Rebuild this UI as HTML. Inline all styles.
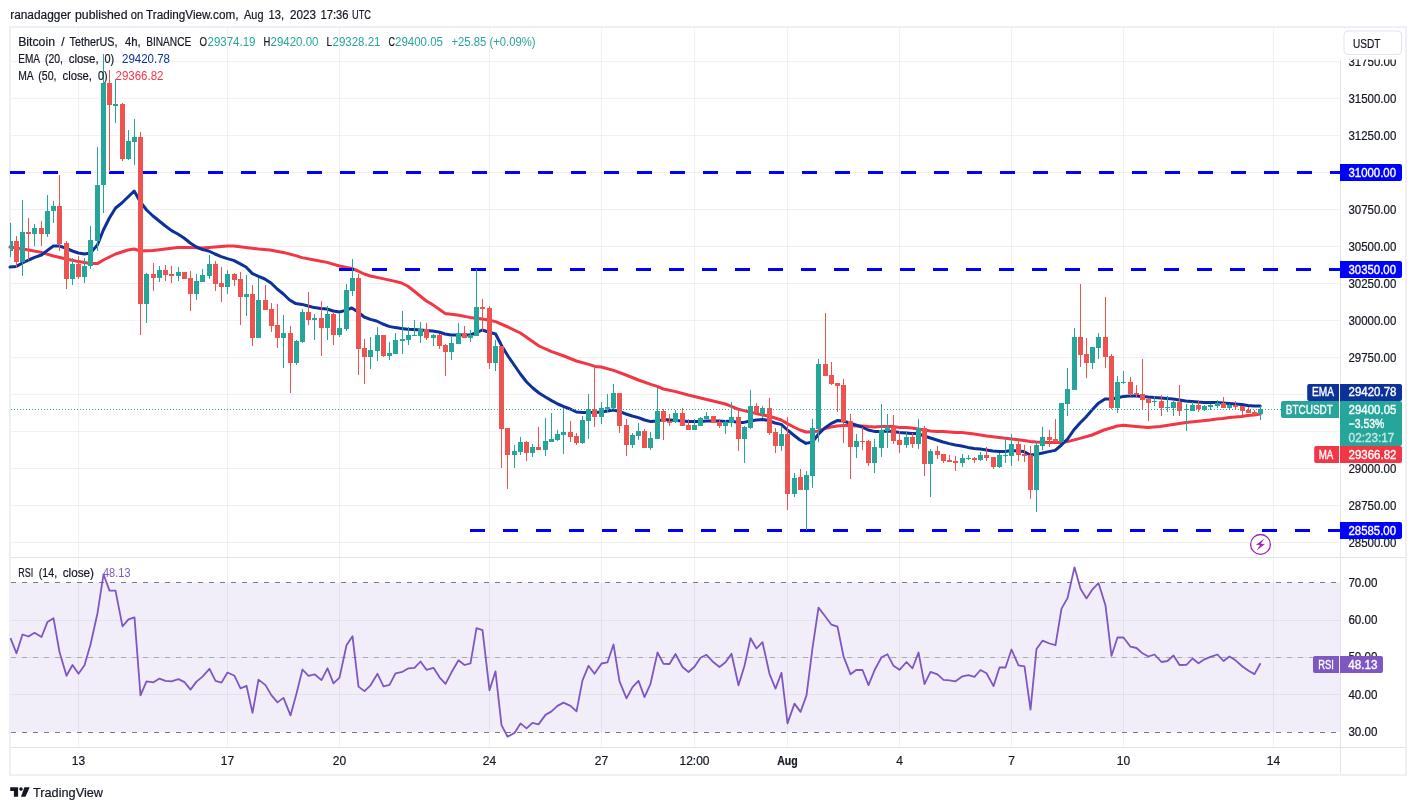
<!DOCTYPE html>
<html lang="en"><head><meta charset="utf-8"><title>BTCUSDT 4h chart</title>
<style>html,body{margin:0;padding:0;background:#fff;}svg{display:block;}</style></head>
<body><svg width="1416" height="810" viewBox="0 0 1416 810" font-family="'Liberation Sans', Arial, sans-serif" font-size="12">
<rect width="1416" height="810" fill="#fff"/>
<rect x="10" y="27" width="1396" height="748" fill="#fff" stroke="#eff0f6" stroke-width="2"/>
<rect x="11" y="582.5" width="1329" height="149.5" fill="#f2eef9"/>
<g shape-rendering="crispEdges" stroke="#2a2e39" stroke-opacity="0.065" stroke-width="1">
<line x1="78.5" y1="28" x2="78.5" y2="747"/>
<line x1="227.5" y1="28" x2="227.5" y2="747"/>
<line x1="339.5" y1="28" x2="339.5" y2="747"/>
<line x1="489.5" y1="28" x2="489.5" y2="747"/>
<line x1="601.5" y1="28" x2="601.5" y2="747"/>
<line x1="694.5" y1="28" x2="694.5" y2="747"/>
<line x1="787.5" y1="28" x2="787.5" y2="747"/>
<line x1="899.5" y1="28" x2="899.5" y2="747"/>
<line x1="1011.5" y1="28" x2="1011.5" y2="747"/>
<line x1="1123.5" y1="28" x2="1123.5" y2="747"/>
<line x1="1273.5" y1="28" x2="1273.5" y2="747"/>
<line x1="11" y1="542.5" x2="1340" y2="542.5"/>
<line x1="11" y1="505.5" x2="1340" y2="505.5"/>
<line x1="11" y1="468.5" x2="1340" y2="468.5"/>
<line x1="11" y1="431.5" x2="1340" y2="431.5"/>
<line x1="11" y1="394.5" x2="1340" y2="394.5"/>
<line x1="11" y1="357.5" x2="1340" y2="357.5"/>
<line x1="11" y1="320.5" x2="1340" y2="320.5"/>
<line x1="11" y1="283.5" x2="1340" y2="283.5"/>
<line x1="11" y1="246.5" x2="1340" y2="246.5"/>
<line x1="11" y1="209.5" x2="1340" y2="209.5"/>
<line x1="11" y1="172.5" x2="1340" y2="172.5"/>
<line x1="11" y1="135.5" x2="1340" y2="135.5"/>
<line x1="11" y1="98.5" x2="1340" y2="98.5"/>
<line x1="11" y1="61.5" x2="1340" y2="61.5"/>
<line x1="11" y1="620.5" x2="1340" y2="620.5"/>
<line x1="11" y1="657.5" x2="1340" y2="657.5"/>
<line x1="11" y1="694.5" x2="1340" y2="694.5"/>
</g>
<g shape-rendering="crispEdges" stroke="#e0e3eb" stroke-width="1">
<line x1="1340.5" y1="28" x2="1340.5" y2="774"/>
<line x1="11" y1="747.5" x2="1405" y2="747.5"/>
<line x1="11" y1="557.5" x2="1405" y2="557.5"/>
</g>
<g shape-rendering="crispEdges" fill="none">
<line x1="11" y1="582.5" x2="1340" y2="582.5" stroke="#787b86" stroke-width="1" stroke-dasharray="5 6"/>
<line x1="11" y1="732.5" x2="1340" y2="732.5" stroke="#787b86" stroke-width="1" stroke-dasharray="5 6"/>
<line x1="11" y1="657.5" x2="1340" y2="657.5" stroke="#a9abb3" stroke-width="1" stroke-dasharray="5 6"/>
</g>
<polyline points="10.0,247.0 22.4,249.0 28.6,250.0 41.4,252.4 53.4,256.0 66.4,259.0 78.4,261.6 90.4,263.6 97.4,263.6 103.4,260.0 115.6,254.0 128.0,250.0 134.2,249.0 140.4,251.0 153.0,250.4 165.4,249.0 177.8,247.6 190.2,247.6 202.6,248.0 215.0,247.0 227.4,246.0 233.6,246.0 246.0,247.6 258.6,249.0 270.0,250.0 283.4,252.4 295.8,255.6 302.0,257.6 314.4,260.0 327.0,262.4 339.4,266.0 351.8,268.4 358.0,271.0 364.2,274.0 370.4,276.0 382.8,278.6 395.2,281.4 401.4,283.0 407.6,286.0 414.0,291.0 420.2,296.0 426.4,301.0 432.6,304.6 438.8,309.0 445.0,313.4 457.4,315.0 469.8,317.4 482.2,319.0 488.4,320.0 495.6,321.6 508.0,327.0 520.4,333.0 539.0,346.0 551.6,351.6 564.0,356.0 576.4,361.0 588.8,364.4 595.0,366.4 601.2,367.0 613.6,370.4 626.0,375.0 638.4,380.0 650.8,384.4 657.2,386.4 663.4,389.0 675.8,391.6 688.2,395.0 700.6,398.0 713.0,401.0 725.4,404.0 731.4,406.4 737.6,409.0 744.0,410.6 750.0,412.0 756.4,413.6 762.6,415.0 768.8,416.0 775.0,418.0 781.2,420.0 787.4,423.6 793.6,427.0 800.0,430.0 806.0,432.0 812.4,432.0 818.6,431.0 824.8,428.6 831.0,427.0 837.2,426.0 843.4,425.6 849.6,425.6 855.8,426.0 862.0,426.0 868.2,426.6 874.4,427.0 880.8,426.6 887.0,426.4 893.2,426.6 899.4,427.4 905.6,427.6 911.8,428.0 918.0,429.0 924.2,430.0 930.4,431.0 936.8,431.4 943.0,431.6 949.2,432.0 955.4,432.4 961.8,432.6 974.2,434.0 986.6,436.0 999.2,437.6 1011.6,439.0 1024.0,440.4 1030.2,441.4 1036.4,442.0 1048.8,442.4 1061.4,442.6 1067.6,441.6 1080.0,438.4 1092.0,435.0 1104.0,430.0 1117.4,426.0 1123.6,425.2 1136.0,426.4 1148.0,427.6 1160.0,426.4 1186.0,422.6 1210.0,420.0 1216.8,419.0 1223.0,418.4 1229.2,417.6 1235.4,417.0 1241.6,416.4 1247.8,415.6 1254.0,415.0 1260.2,414.0" fill="none" stroke="#f23645" stroke-width="3" stroke-linejoin="round" stroke-linecap="round"/>
<polyline points="10.0,267.0 16.4,266.4 22.4,263.0 28.6,260.0 34.6,257.4 41.4,255.0 47.4,250.4 53.4,246.0 59.4,246.0 66.4,248.4 72.4,251.0 78.4,253.0 84.6,254.0 90.4,253.0 97.4,245.0 103.4,230.0 109.4,218.0 115.6,208.0 121.8,203.0 128.0,197.0 134.2,191.0 140.4,202.0 146.6,210.0 153.0,216.0 159.2,221.0 165.4,226.0 171.6,230.6 177.8,234.0 184.0,238.0 190.2,243.0 196.4,247.0 202.6,249.6 208.8,251.0 215.0,254.0 221.2,256.6 227.4,258.6 233.6,260.4 239.8,263.6 246.0,267.0 252.4,273.6 258.6,276.4 264.8,279.0 271.0,283.0 277.2,289.0 283.4,294.0 289.6,300.0 295.8,303.6 302.0,304.4 308.2,306.0 314.4,307.6 320.6,308.6 327.0,309.0 333.2,311.0 339.4,312.0 345.6,310.4 351.8,308.0 358.0,312.0 364.2,317.0 370.4,319.4 376.6,321.0 382.8,324.0 389.0,326.4 395.2,327.6 401.4,328.4 407.6,329.2 414.0,329.6 420.2,330.0 426.4,330.4 432.6,331.0 438.8,332.0 445.0,334.0 451.2,335.0 457.4,335.0 463.6,335.0 469.8,335.0 476.0,333.0 482.2,330.0 488.4,332.0 495.6,334.0 501.8,346.0 508.0,356.0 514.2,365.0 520.4,374.0 526.6,382.0 532.8,388.0 539.0,393.0 545.4,397.0 551.6,400.6 557.8,404.0 564.0,406.6 570.2,409.0 576.4,412.0 582.6,412.4 588.8,412.4 595.0,412.4 601.2,412.0 607.4,411.0 613.6,410.0 619.8,411.6 626.0,414.0 632.2,416.0 638.4,417.6 644.6,420.0 650.8,421.6 657.2,421.0 663.4,419.6 669.6,420.0 675.8,420.4 682.0,421.0 688.2,421.4 694.4,421.6 700.6,421.6 706.8,421.0 713.0,421.0 719.2,421.0 725.4,421.4 731.4,421.0 737.6,422.4 744.0,422.4 750.0,421.0 756.4,420.0 762.6,419.6 768.8,420.6 775.0,423.0 781.2,424.4 787.4,430.0 793.6,435.0 800.0,440.0 806.0,443.4 812.4,442.0 818.6,434.0 824.8,428.0 831.0,423.6 837.2,420.6 843.4,421.0 849.6,423.0 855.8,425.0 862.0,427.0 868.2,430.0 874.4,431.4 880.8,431.4 887.0,431.0 893.2,431.6 899.4,432.4 905.6,433.0 911.8,433.6 918.0,433.6 924.2,436.0 930.4,438.0 936.8,440.0 943.0,442.0 949.2,443.6 955.4,445.0 961.6,446.0 967.8,447.4 974.0,448.4 980.2,449.0 986.4,450.0 992.8,451.0 999.0,451.4 1005.2,451.4 1011.4,450.4 1017.8,451.0 1024.0,451.6 1030.2,455.0 1036.4,454.4 1042.6,453.0 1048.8,451.6 1055.2,450.4 1061.4,445.0 1067.6,439.0 1073.8,430.0 1080.0,423.0 1086.0,417.0 1092.0,410.0 1098.0,403.6 1105.0,399.0 1111.0,399.0 1117.2,398.0 1123.4,396.4 1129.6,396.0 1135.8,396.0 1142.0,396.4 1148.2,397.0 1154.4,397.4 1160.8,398.0 1167.0,398.6 1173.2,399.0 1179.4,400.0 1185.6,401.0 1191.8,401.4 1198.0,402.0 1204.2,402.4 1210.4,402.6 1216.8,402.6 1223.0,403.0 1229.2,403.4 1235.4,404.0 1241.6,404.6 1247.8,405.4 1254.0,406.0 1260.2,406.0" fill="none" stroke="#0c3299" stroke-width="3" stroke-linejoin="round" stroke-linecap="round"/>
<g stroke="#0000ff" stroke-width="3" stroke-dasharray="15 18" shape-rendering="crispEdges">
<line x1="10" y1="172.5" x2="1340" y2="172.5"/>
<line x1="339" y1="269.5" x2="1340" y2="269.5"/>
<line x1="470" y1="530.5" x2="1340" y2="530.5"/>
</g>
<g shape-rendering="crispEdges">
<rect x="10" y="223" width="1" height="34" fill="#26a69a"/>
<rect x="10" y="241" width="3" height="10" fill="#26a69a"/>
<rect x="16" y="236" width="1" height="32" fill="#ef5350"/>
<rect x="14" y="241" width="5" height="21" fill="#ef5350"/>
<rect x="22" y="200" width="1" height="76" fill="#26a69a"/>
<rect x="20" y="232" width="5" height="30" fill="#26a69a"/>
<rect x="28" y="218" width="1" height="42" fill="#ef5350"/>
<rect x="26" y="232" width="5" height="2" fill="#ef5350"/>
<rect x="34" y="224" width="1" height="22" fill="#26a69a"/>
<rect x="32" y="228" width="5" height="6" fill="#26a69a"/>
<rect x="41" y="221" width="1" height="25" fill="#ef5350"/>
<rect x="39" y="228" width="5" height="6" fill="#ef5350"/>
<rect x="47" y="195" width="1" height="42" fill="#26a69a"/>
<rect x="45" y="211" width="5" height="23" fill="#26a69a"/>
<rect x="53" y="201" width="1" height="22" fill="#26a69a"/>
<rect x="51" y="206" width="5" height="5" fill="#26a69a"/>
<rect x="59" y="175" width="1" height="76" fill="#ef5350"/>
<rect x="57" y="206" width="5" height="38" fill="#ef5350"/>
<rect x="66" y="241" width="1" height="48" fill="#ef5350"/>
<rect x="64" y="243" width="5" height="36" fill="#ef5350"/>
<rect x="72" y="258" width="1" height="27" fill="#26a69a"/>
<rect x="70" y="264" width="5" height="15" fill="#26a69a"/>
<rect x="78" y="256" width="1" height="23" fill="#ef5350"/>
<rect x="76" y="264" width="5" height="13" fill="#ef5350"/>
<rect x="84" y="258" width="1" height="25" fill="#26a69a"/>
<rect x="82" y="266" width="5" height="11" fill="#26a69a"/>
<rect x="90" y="226" width="1" height="43" fill="#26a69a"/>
<rect x="88" y="240" width="5" height="26" fill="#26a69a"/>
<rect x="97" y="147" width="1" height="104" fill="#26a69a"/>
<rect x="95" y="185" width="5" height="56" fill="#26a69a"/>
<rect x="103" y="54" width="1" height="159" fill="#26a69a"/>
<rect x="101" y="83" width="5" height="102" fill="#26a69a"/>
<rect x="109" y="70" width="1" height="102" fill="#ef5350"/>
<rect x="107" y="83" width="5" height="22" fill="#ef5350"/>
<rect x="115" y="79" width="1" height="44" fill="#26a69a"/>
<rect x="113" y="104" width="5" height="2" fill="#26a69a"/>
<rect x="122" y="103" width="1" height="58" fill="#ef5350"/>
<rect x="120" y="104" width="5" height="55" fill="#ef5350"/>
<rect x="128" y="130" width="1" height="30" fill="#26a69a"/>
<rect x="126" y="141" width="5" height="18" fill="#26a69a"/>
<rect x="134" y="119" width="1" height="46" fill="#26a69a"/>
<rect x="132" y="137" width="5" height="5" fill="#26a69a"/>
<rect x="140" y="132" width="1" height="203" fill="#ef5350"/>
<rect x="138" y="137" width="5" height="167" fill="#ef5350"/>
<rect x="146" y="273" width="1" height="50" fill="#26a69a"/>
<rect x="144" y="274" width="5" height="30" fill="#26a69a"/>
<rect x="153" y="263" width="1" height="28" fill="#ef5350"/>
<rect x="151" y="274" width="5" height="4" fill="#ef5350"/>
<rect x="159" y="266" width="1" height="16" fill="#26a69a"/>
<rect x="157" y="270" width="5" height="8" fill="#26a69a"/>
<rect x="165" y="265" width="1" height="16" fill="#ef5350"/>
<rect x="163" y="270" width="5" height="5" fill="#ef5350"/>
<rect x="171" y="266" width="1" height="17" fill="#ef5350"/>
<rect x="169" y="274" width="5" height="2" fill="#ef5350"/>
<rect x="178" y="267" width="1" height="14" fill="#26a69a"/>
<rect x="176" y="272" width="5" height="4" fill="#26a69a"/>
<rect x="184" y="272" width="1" height="7" fill="#ef5350"/>
<rect x="182" y="272" width="5" height="7" fill="#ef5350"/>
<rect x="190" y="271" width="1" height="40" fill="#ef5350"/>
<rect x="188" y="278" width="5" height="16" fill="#ef5350"/>
<rect x="196" y="274" width="1" height="26" fill="#26a69a"/>
<rect x="194" y="281" width="5" height="13" fill="#26a69a"/>
<rect x="202" y="269" width="1" height="13" fill="#26a69a"/>
<rect x="200" y="275" width="5" height="7" fill="#26a69a"/>
<rect x="209" y="255" width="1" height="24" fill="#26a69a"/>
<rect x="207" y="264" width="5" height="12" fill="#26a69a"/>
<rect x="215" y="261" width="1" height="30" fill="#ef5350"/>
<rect x="213" y="264" width="5" height="20" fill="#ef5350"/>
<rect x="221" y="267" width="1" height="35" fill="#ef5350"/>
<rect x="219" y="283" width="5" height="4" fill="#ef5350"/>
<rect x="227" y="270" width="1" height="24" fill="#26a69a"/>
<rect x="225" y="274" width="5" height="13" fill="#26a69a"/>
<rect x="234" y="273" width="1" height="13" fill="#ef5350"/>
<rect x="232" y="274" width="5" height="6" fill="#ef5350"/>
<rect x="240" y="272" width="1" height="53" fill="#ef5350"/>
<rect x="238" y="279" width="5" height="18" fill="#ef5350"/>
<rect x="246" y="275" width="1" height="41" fill="#26a69a"/>
<rect x="244" y="294" width="5" height="3" fill="#26a69a"/>
<rect x="252" y="285" width="1" height="61" fill="#ef5350"/>
<rect x="250" y="294" width="5" height="44" fill="#ef5350"/>
<rect x="258" y="278" width="1" height="60" fill="#26a69a"/>
<rect x="256" y="300" width="5" height="38" fill="#26a69a"/>
<rect x="265" y="285" width="1" height="25" fill="#ef5350"/>
<rect x="263" y="300" width="5" height="10" fill="#ef5350"/>
<rect x="271" y="303" width="1" height="29" fill="#ef5350"/>
<rect x="269" y="309" width="5" height="17" fill="#ef5350"/>
<rect x="277" y="304" width="1" height="44" fill="#ef5350"/>
<rect x="275" y="325" width="5" height="13" fill="#ef5350"/>
<rect x="283" y="315" width="1" height="53" fill="#26a69a"/>
<rect x="281" y="333" width="5" height="5" fill="#26a69a"/>
<rect x="290" y="326" width="1" height="67" fill="#ef5350"/>
<rect x="288" y="333" width="5" height="30" fill="#ef5350"/>
<rect x="296" y="340" width="1" height="25" fill="#26a69a"/>
<rect x="294" y="341" width="5" height="22" fill="#26a69a"/>
<rect x="302" y="309" width="1" height="34" fill="#26a69a"/>
<rect x="300" y="312" width="5" height="30" fill="#26a69a"/>
<rect x="308" y="292" width="1" height="33" fill="#ef5350"/>
<rect x="306" y="312" width="5" height="8" fill="#ef5350"/>
<rect x="314" y="314" width="1" height="26" fill="#26a69a"/>
<rect x="312" y="318" width="5" height="2" fill="#26a69a"/>
<rect x="321" y="301" width="1" height="55" fill="#ef5350"/>
<rect x="319" y="318" width="5" height="10" fill="#ef5350"/>
<rect x="327" y="306" width="1" height="34" fill="#26a69a"/>
<rect x="325" y="314" width="5" height="14" fill="#26a69a"/>
<rect x="333" y="312" width="1" height="33" fill="#ef5350"/>
<rect x="331" y="314" width="5" height="21" fill="#ef5350"/>
<rect x="339" y="313" width="1" height="24" fill="#26a69a"/>
<rect x="337" y="328" width="5" height="7" fill="#26a69a"/>
<rect x="346" y="284" width="1" height="47" fill="#26a69a"/>
<rect x="344" y="290" width="5" height="39" fill="#26a69a"/>
<rect x="352" y="259" width="1" height="37" fill="#26a69a"/>
<rect x="350" y="278" width="5" height="13" fill="#26a69a"/>
<rect x="358" y="274" width="1" height="101" fill="#ef5350"/>
<rect x="356" y="278" width="5" height="71" fill="#ef5350"/>
<rect x="364" y="339" width="1" height="45" fill="#ef5350"/>
<rect x="362" y="348" width="5" height="9" fill="#ef5350"/>
<rect x="370" y="337" width="1" height="32" fill="#26a69a"/>
<rect x="368" y="350" width="5" height="7" fill="#26a69a"/>
<rect x="377" y="327" width="1" height="34" fill="#26a69a"/>
<rect x="375" y="335" width="5" height="16" fill="#26a69a"/>
<rect x="383" y="335" width="1" height="22" fill="#ef5350"/>
<rect x="381" y="335" width="5" height="21" fill="#ef5350"/>
<rect x="389" y="342" width="1" height="18" fill="#26a69a"/>
<rect x="387" y="353" width="5" height="3" fill="#26a69a"/>
<rect x="395" y="333" width="1" height="21" fill="#26a69a"/>
<rect x="393" y="340" width="5" height="14" fill="#26a69a"/>
<rect x="402" y="311" width="1" height="43" fill="#26a69a"/>
<rect x="400" y="339" width="5" height="2" fill="#26a69a"/>
<rect x="408" y="327" width="1" height="18" fill="#26a69a"/>
<rect x="406" y="335" width="5" height="5" fill="#26a69a"/>
<rect x="414" y="320" width="1" height="16" fill="#26a69a"/>
<rect x="412" y="335" width="5" height="1" fill="#26a69a"/>
<rect x="420" y="322" width="1" height="21" fill="#26a69a"/>
<rect x="418" y="329" width="5" height="7" fill="#26a69a"/>
<rect x="426" y="323" width="1" height="17" fill="#ef5350"/>
<rect x="424" y="329" width="5" height="9" fill="#ef5350"/>
<rect x="433" y="334" width="1" height="12" fill="#26a69a"/>
<rect x="431" y="335" width="5" height="3" fill="#26a69a"/>
<rect x="439" y="334" width="1" height="15" fill="#ef5350"/>
<rect x="437" y="335" width="5" height="11" fill="#ef5350"/>
<rect x="445" y="344" width="1" height="32" fill="#ef5350"/>
<rect x="443" y="345" width="5" height="7" fill="#ef5350"/>
<rect x="451" y="337" width="1" height="23" fill="#26a69a"/>
<rect x="449" y="343" width="5" height="9" fill="#26a69a"/>
<rect x="458" y="323" width="1" height="21" fill="#26a69a"/>
<rect x="456" y="333" width="5" height="11" fill="#26a69a"/>
<rect x="464" y="326" width="1" height="12" fill="#ef5350"/>
<rect x="462" y="333" width="5" height="5" fill="#ef5350"/>
<rect x="470" y="330" width="1" height="12" fill="#26a69a"/>
<rect x="468" y="335" width="5" height="3" fill="#26a69a"/>
<rect x="476" y="269" width="1" height="67" fill="#26a69a"/>
<rect x="474" y="307" width="5" height="29" fill="#26a69a"/>
<rect x="482" y="299" width="1" height="33" fill="#ef5350"/>
<rect x="480" y="307" width="5" height="2" fill="#ef5350"/>
<rect x="489" y="306" width="1" height="63" fill="#ef5350"/>
<rect x="487" y="308" width="5" height="55" fill="#ef5350"/>
<rect x="495" y="340" width="1" height="31" fill="#26a69a"/>
<rect x="493" y="346" width="5" height="17" fill="#26a69a"/>
<rect x="501" y="346" width="1" height="122" fill="#ef5350"/>
<rect x="499" y="346" width="5" height="83" fill="#ef5350"/>
<rect x="507" y="428" width="1" height="61" fill="#ef5350"/>
<rect x="505" y="428" width="5" height="27" fill="#ef5350"/>
<rect x="514" y="445" width="1" height="23" fill="#26a69a"/>
<rect x="512" y="451" width="5" height="4" fill="#26a69a"/>
<rect x="520" y="437" width="1" height="18" fill="#26a69a"/>
<rect x="518" y="442" width="5" height="10" fill="#26a69a"/>
<rect x="526" y="441" width="1" height="20" fill="#ef5350"/>
<rect x="524" y="442" width="5" height="11" fill="#ef5350"/>
<rect x="532" y="444" width="1" height="13" fill="#26a69a"/>
<rect x="530" y="447" width="5" height="6" fill="#26a69a"/>
<rect x="538" y="427" width="1" height="23" fill="#ef5350"/>
<rect x="536" y="447" width="5" height="3" fill="#ef5350"/>
<rect x="545" y="418" width="1" height="38" fill="#26a69a"/>
<rect x="543" y="441" width="5" height="9" fill="#26a69a"/>
<rect x="551" y="413" width="1" height="29" fill="#26a69a"/>
<rect x="549" y="439" width="5" height="3" fill="#26a69a"/>
<rect x="557" y="430" width="1" height="11" fill="#26a69a"/>
<rect x="555" y="434" width="5" height="6" fill="#26a69a"/>
<rect x="563" y="408" width="1" height="46" fill="#26a69a"/>
<rect x="561" y="432" width="5" height="3" fill="#26a69a"/>
<rect x="570" y="421" width="1" height="21" fill="#ef5350"/>
<rect x="568" y="432" width="5" height="5" fill="#ef5350"/>
<rect x="576" y="433" width="1" height="12" fill="#ef5350"/>
<rect x="574" y="436" width="5" height="7" fill="#ef5350"/>
<rect x="582" y="416" width="1" height="28" fill="#26a69a"/>
<rect x="580" y="420" width="5" height="23" fill="#26a69a"/>
<rect x="588" y="394" width="1" height="45" fill="#26a69a"/>
<rect x="586" y="409" width="5" height="12" fill="#26a69a"/>
<rect x="594" y="366" width="1" height="61" fill="#ef5350"/>
<rect x="592" y="409" width="5" height="8" fill="#ef5350"/>
<rect x="601" y="402" width="1" height="22" fill="#26a69a"/>
<rect x="599" y="408" width="5" height="9" fill="#26a69a"/>
<rect x="607" y="394" width="1" height="18" fill="#26a69a"/>
<rect x="605" y="407" width="5" height="2" fill="#26a69a"/>
<rect x="613" y="384" width="1" height="25" fill="#26a69a"/>
<rect x="611" y="393" width="5" height="15" fill="#26a69a"/>
<rect x="619" y="393" width="1" height="40" fill="#ef5350"/>
<rect x="617" y="393" width="5" height="33" fill="#ef5350"/>
<rect x="626" y="419" width="1" height="37" fill="#ef5350"/>
<rect x="624" y="425" width="5" height="20" fill="#ef5350"/>
<rect x="632" y="433" width="1" height="15" fill="#26a69a"/>
<rect x="630" y="435" width="5" height="10" fill="#26a69a"/>
<rect x="638" y="423" width="1" height="17" fill="#26a69a"/>
<rect x="636" y="431" width="5" height="5" fill="#26a69a"/>
<rect x="644" y="429" width="1" height="19" fill="#ef5350"/>
<rect x="642" y="431" width="5" height="17" fill="#ef5350"/>
<rect x="650" y="432" width="1" height="18" fill="#26a69a"/>
<rect x="648" y="438" width="5" height="10" fill="#26a69a"/>
<rect x="657" y="388" width="1" height="51" fill="#26a69a"/>
<rect x="655" y="411" width="5" height="28" fill="#26a69a"/>
<rect x="663" y="409" width="1" height="31" fill="#ef5350"/>
<rect x="661" y="411" width="5" height="11" fill="#ef5350"/>
<rect x="669" y="414" width="1" height="12" fill="#ef5350"/>
<rect x="667" y="421" width="5" height="2" fill="#ef5350"/>
<rect x="675" y="410" width="1" height="13" fill="#26a69a"/>
<rect x="673" y="413" width="5" height="9" fill="#26a69a"/>
<rect x="682" y="408" width="1" height="18" fill="#ef5350"/>
<rect x="680" y="413" width="5" height="13" fill="#ef5350"/>
<rect x="688" y="419" width="1" height="11" fill="#ef5350"/>
<rect x="686" y="425" width="5" height="5" fill="#ef5350"/>
<rect x="694" y="419" width="1" height="11" fill="#26a69a"/>
<rect x="692" y="425" width="5" height="5" fill="#26a69a"/>
<rect x="700" y="417" width="1" height="9" fill="#26a69a"/>
<rect x="698" y="418" width="5" height="8" fill="#26a69a"/>
<rect x="706" y="412" width="1" height="7" fill="#26a69a"/>
<rect x="704" y="416" width="5" height="3" fill="#26a69a"/>
<rect x="713" y="416" width="1" height="7" fill="#ef5350"/>
<rect x="711" y="416" width="5" height="7" fill="#ef5350"/>
<rect x="719" y="419" width="1" height="9" fill="#ef5350"/>
<rect x="717" y="422" width="5" height="4" fill="#ef5350"/>
<rect x="725" y="420" width="1" height="14" fill="#26a69a"/>
<rect x="723" y="422" width="5" height="4" fill="#26a69a"/>
<rect x="731" y="402" width="1" height="25" fill="#26a69a"/>
<rect x="729" y="417" width="5" height="6" fill="#26a69a"/>
<rect x="738" y="409" width="1" height="42" fill="#ef5350"/>
<rect x="736" y="417" width="5" height="22" fill="#ef5350"/>
<rect x="744" y="426" width="1" height="37" fill="#26a69a"/>
<rect x="742" y="427" width="5" height="12" fill="#26a69a"/>
<rect x="750" y="390" width="1" height="39" fill="#26a69a"/>
<rect x="748" y="406" width="5" height="22" fill="#26a69a"/>
<rect x="756" y="403" width="1" height="11" fill="#ef5350"/>
<rect x="754" y="406" width="5" height="7" fill="#ef5350"/>
<rect x="762" y="406" width="1" height="12" fill="#26a69a"/>
<rect x="760" y="408" width="5" height="6" fill="#26a69a"/>
<rect x="769" y="398" width="1" height="37" fill="#ef5350"/>
<rect x="767" y="408" width="5" height="25" fill="#ef5350"/>
<rect x="775" y="428" width="1" height="25" fill="#ef5350"/>
<rect x="773" y="432" width="5" height="14" fill="#ef5350"/>
<rect x="781" y="426" width="1" height="25" fill="#26a69a"/>
<rect x="779" y="434" width="5" height="12" fill="#26a69a"/>
<rect x="787" y="417" width="1" height="93" fill="#ef5350"/>
<rect x="785" y="434" width="5" height="60" fill="#ef5350"/>
<rect x="794" y="473" width="1" height="24" fill="#26a69a"/>
<rect x="792" y="478" width="5" height="16" fill="#26a69a"/>
<rect x="800" y="469" width="1" height="21" fill="#ef5350"/>
<rect x="798" y="477" width="5" height="13" fill="#ef5350"/>
<rect x="806" y="471" width="1" height="59" fill="#26a69a"/>
<rect x="804" y="475" width="5" height="15" fill="#26a69a"/>
<rect x="812" y="419" width="1" height="69" fill="#26a69a"/>
<rect x="810" y="428" width="5" height="48" fill="#26a69a"/>
<rect x="818" y="359" width="1" height="83" fill="#26a69a"/>
<rect x="816" y="364" width="5" height="65" fill="#26a69a"/>
<rect x="825" y="313" width="1" height="63" fill="#ef5350"/>
<rect x="823" y="364" width="5" height="12" fill="#ef5350"/>
<rect x="831" y="362" width="1" height="23" fill="#ef5350"/>
<rect x="829" y="375" width="5" height="9" fill="#ef5350"/>
<rect x="837" y="383" width="1" height="29" fill="#ef5350"/>
<rect x="835" y="383" width="5" height="3" fill="#ef5350"/>
<rect x="843" y="379" width="1" height="64" fill="#ef5350"/>
<rect x="841" y="385" width="5" height="37" fill="#ef5350"/>
<rect x="850" y="414" width="1" height="65" fill="#ef5350"/>
<rect x="848" y="421" width="5" height="26" fill="#ef5350"/>
<rect x="856" y="434" width="1" height="24" fill="#26a69a"/>
<rect x="854" y="441" width="5" height="6" fill="#26a69a"/>
<rect x="862" y="427" width="1" height="23" fill="#ef5350"/>
<rect x="860" y="441" width="5" height="1" fill="#ef5350"/>
<rect x="868" y="440" width="1" height="26" fill="#ef5350"/>
<rect x="866" y="441" width="5" height="22" fill="#ef5350"/>
<rect x="874" y="439" width="1" height="34" fill="#26a69a"/>
<rect x="872" y="447" width="5" height="16" fill="#26a69a"/>
<rect x="881" y="404" width="1" height="53" fill="#26a69a"/>
<rect x="879" y="430" width="5" height="18" fill="#26a69a"/>
<rect x="887" y="414" width="1" height="34" fill="#26a69a"/>
<rect x="885" y="427" width="5" height="4" fill="#26a69a"/>
<rect x="893" y="415" width="1" height="29" fill="#ef5350"/>
<rect x="891" y="427" width="5" height="14" fill="#ef5350"/>
<rect x="899" y="431" width="1" height="22" fill="#ef5350"/>
<rect x="897" y="440" width="5" height="5" fill="#ef5350"/>
<rect x="906" y="431" width="1" height="17" fill="#26a69a"/>
<rect x="904" y="437" width="5" height="8" fill="#26a69a"/>
<rect x="912" y="433" width="1" height="15" fill="#ef5350"/>
<rect x="910" y="437" width="5" height="7" fill="#ef5350"/>
<rect x="918" y="419" width="1" height="30" fill="#26a69a"/>
<rect x="916" y="428" width="5" height="16" fill="#26a69a"/>
<rect x="924" y="426" width="1" height="50" fill="#ef5350"/>
<rect x="922" y="428" width="5" height="36" fill="#ef5350"/>
<rect x="930" y="449" width="1" height="48" fill="#26a69a"/>
<rect x="928" y="451" width="5" height="13" fill="#26a69a"/>
<rect x="937" y="446" width="1" height="13" fill="#ef5350"/>
<rect x="935" y="451" width="5" height="4" fill="#ef5350"/>
<rect x="943" y="454" width="1" height="9" fill="#ef5350"/>
<rect x="941" y="454" width="5" height="7" fill="#ef5350"/>
<rect x="949" y="455" width="1" height="7" fill="#ef5350"/>
<rect x="947" y="460" width="5" height="2" fill="#ef5350"/>
<rect x="955" y="456" width="1" height="15" fill="#ef5350"/>
<rect x="953" y="461" width="5" height="2" fill="#ef5350"/>
<rect x="962" y="454" width="1" height="13" fill="#26a69a"/>
<rect x="960" y="458" width="5" height="5" fill="#26a69a"/>
<rect x="968" y="455" width="1" height="5" fill="#26a69a"/>
<rect x="966" y="458" width="5" height="1" fill="#26a69a"/>
<rect x="974" y="457" width="1" height="6" fill="#ef5350"/>
<rect x="972" y="458" width="5" height="2" fill="#ef5350"/>
<rect x="980" y="452" width="1" height="9" fill="#26a69a"/>
<rect x="978" y="455" width="5" height="5" fill="#26a69a"/>
<rect x="986" y="447" width="1" height="14" fill="#ef5350"/>
<rect x="984" y="455" width="5" height="3" fill="#ef5350"/>
<rect x="993" y="457" width="1" height="12" fill="#ef5350"/>
<rect x="991" y="457" width="5" height="10" fill="#ef5350"/>
<rect x="999" y="453" width="1" height="15" fill="#26a69a"/>
<rect x="997" y="455" width="5" height="12" fill="#26a69a"/>
<rect x="1005" y="438" width="1" height="25" fill="#26a69a"/>
<rect x="1003" y="455" width="5" height="1" fill="#26a69a"/>
<rect x="1011" y="434" width="1" height="32" fill="#26a69a"/>
<rect x="1009" y="444" width="5" height="12" fill="#26a69a"/>
<rect x="1018" y="440" width="1" height="21" fill="#ef5350"/>
<rect x="1016" y="444" width="5" height="11" fill="#ef5350"/>
<rect x="1024" y="445" width="1" height="17" fill="#ef5350"/>
<rect x="1022" y="454" width="5" height="2" fill="#ef5350"/>
<rect x="1030" y="446" width="1" height="53" fill="#ef5350"/>
<rect x="1028" y="455" width="5" height="35" fill="#ef5350"/>
<rect x="1036" y="441" width="1" height="71" fill="#26a69a"/>
<rect x="1034" y="445" width="5" height="45" fill="#26a69a"/>
<rect x="1042" y="427" width="1" height="23" fill="#26a69a"/>
<rect x="1040" y="437" width="5" height="9" fill="#26a69a"/>
<rect x="1049" y="430" width="1" height="17" fill="#ef5350"/>
<rect x="1047" y="437" width="5" height="3" fill="#ef5350"/>
<rect x="1055" y="419" width="1" height="23" fill="#ef5350"/>
<rect x="1053" y="439" width="5" height="3" fill="#ef5350"/>
<rect x="1061" y="403" width="1" height="40" fill="#26a69a"/>
<rect x="1059" y="403" width="5" height="39" fill="#26a69a"/>
<rect x="1067" y="368" width="1" height="48" fill="#26a69a"/>
<rect x="1065" y="389" width="5" height="15" fill="#26a69a"/>
<rect x="1074" y="328" width="1" height="62" fill="#26a69a"/>
<rect x="1072" y="337" width="5" height="53" fill="#26a69a"/>
<rect x="1080" y="284" width="1" height="83" fill="#ef5350"/>
<rect x="1078" y="337" width="5" height="18" fill="#ef5350"/>
<rect x="1086" y="338" width="1" height="40" fill="#ef5350"/>
<rect x="1084" y="354" width="5" height="9" fill="#ef5350"/>
<rect x="1092" y="347" width="1" height="22" fill="#26a69a"/>
<rect x="1090" y="347" width="5" height="16" fill="#26a69a"/>
<rect x="1098" y="333" width="1" height="26" fill="#26a69a"/>
<rect x="1096" y="337" width="5" height="11" fill="#26a69a"/>
<rect x="1105" y="297" width="1" height="71" fill="#ef5350"/>
<rect x="1103" y="337" width="5" height="20" fill="#ef5350"/>
<rect x="1111" y="354" width="1" height="55" fill="#ef5350"/>
<rect x="1109" y="356" width="5" height="52" fill="#ef5350"/>
<rect x="1117" y="376" width="1" height="37" fill="#26a69a"/>
<rect x="1115" y="382" width="5" height="26" fill="#26a69a"/>
<rect x="1123" y="371" width="1" height="13" fill="#26a69a"/>
<rect x="1121" y="382" width="5" height="1" fill="#26a69a"/>
<rect x="1130" y="377" width="1" height="19" fill="#ef5350"/>
<rect x="1128" y="382" width="5" height="12" fill="#ef5350"/>
<rect x="1136" y="385" width="1" height="13" fill="#ef5350"/>
<rect x="1134" y="393" width="5" height="2" fill="#ef5350"/>
<rect x="1142" y="359" width="1" height="50" fill="#ef5350"/>
<rect x="1140" y="394" width="5" height="6" fill="#ef5350"/>
<rect x="1148" y="398" width="1" height="23" fill="#ef5350"/>
<rect x="1146" y="399" width="5" height="4" fill="#ef5350"/>
<rect x="1154" y="396" width="1" height="10" fill="#26a69a"/>
<rect x="1152" y="401" width="5" height="1" fill="#26a69a"/>
<rect x="1161" y="395" width="1" height="21" fill="#ef5350"/>
<rect x="1159" y="401" width="5" height="7" fill="#ef5350"/>
<rect x="1167" y="396" width="1" height="16" fill="#26a69a"/>
<rect x="1165" y="407" width="5" height="1" fill="#26a69a"/>
<rect x="1173" y="401" width="1" height="15" fill="#26a69a"/>
<rect x="1171" y="402" width="5" height="6" fill="#26a69a"/>
<rect x="1179" y="385" width="1" height="31" fill="#ef5350"/>
<rect x="1177" y="402" width="5" height="9" fill="#ef5350"/>
<rect x="1186" y="404" width="1" height="27" fill="#26a69a"/>
<rect x="1184" y="409" width="5" height="1" fill="#26a69a"/>
<rect x="1192" y="402" width="1" height="9" fill="#26a69a"/>
<rect x="1190" y="405" width="5" height="6" fill="#26a69a"/>
<rect x="1198" y="400" width="1" height="12" fill="#ef5350"/>
<rect x="1196" y="405" width="5" height="4" fill="#ef5350"/>
<rect x="1204" y="405" width="1" height="6" fill="#26a69a"/>
<rect x="1202" y="406" width="5" height="4" fill="#26a69a"/>
<rect x="1210" y="404" width="1" height="6" fill="#26a69a"/>
<rect x="1208" y="405" width="5" height="2" fill="#26a69a"/>
<rect x="1217" y="400" width="1" height="8" fill="#26a69a"/>
<rect x="1215" y="403" width="5" height="3" fill="#26a69a"/>
<rect x="1223" y="397" width="1" height="11" fill="#ef5350"/>
<rect x="1221" y="403" width="5" height="5" fill="#ef5350"/>
<rect x="1229" y="404" width="1" height="5" fill="#26a69a"/>
<rect x="1227" y="405" width="5" height="3" fill="#26a69a"/>
<rect x="1235" y="401" width="1" height="8" fill="#ef5350"/>
<rect x="1233" y="405" width="5" height="2" fill="#ef5350"/>
<rect x="1242" y="406" width="1" height="9" fill="#ef5350"/>
<rect x="1240" y="406" width="5" height="5" fill="#ef5350"/>
<rect x="1248" y="407" width="1" height="6" fill="#ef5350"/>
<rect x="1246" y="410" width="5" height="3" fill="#ef5350"/>
<rect x="1254" y="410" width="1" height="5" fill="#ef5350"/>
<rect x="1252" y="412" width="5" height="3" fill="#ef5350"/>
<rect x="1260" y="406" width="1" height="14" fill="#26a69a"/>
<rect x="1258" y="409" width="5" height="5" fill="#26a69a"/>
</g>
<line x1="11" y1="409.5" x2="1340" y2="409.5" stroke="#26a69a" stroke-width="1" stroke-dasharray="1 2" shape-rendering="crispEdges"/>
<polyline points="10.5,638.2 16.5,653.3 22.5,634.5 28.5,636.5 34.5,632.7 41.5,637.0 47.5,621.9 53.5,618.2 59.5,652.0 66.5,675.8 72.5,665.0 78.5,673.8 84.5,665.3 90.5,644.5 97.5,613.2 103.5,574.3 109.5,590.6 115.5,590.6 122.5,626.4 128.5,619.4 134.5,617.4 140.5,695.4 146.5,681.3 153.5,682.3 159.5,678.6 165.5,680.8 171.5,681.3 178.5,679.1 184.5,682.1 190.5,689.6 196.5,681.6 202.5,676.6 209.5,668.8 215.5,680.8 221.5,682.6 227.5,672.5 234.5,675.8 240.5,688.3 246.5,685.8 252.5,712.9 258.5,679.6 265.5,685.1 271.5,695.4 277.5,702.4 283.5,697.9 290.5,715.4 296.5,693.4 302.5,669.5 308.5,675.8 314.5,674.3 321.5,680.1 327.5,668.3 333.5,683.3 339.5,677.6 346.5,645.2 352.5,636.2 358.5,686.6 364.5,691.1 370.5,685.3 377.5,673.8 383.5,686.3 389.5,684.8 395.5,673.3 402.5,671.8 408.5,668.3 414.5,667.8 420.5,661.5 426.5,669.8 433.5,667.8 439.5,677.3 445.5,683.8 451.5,672.3 458.5,660.3 464.5,665.0 470.5,663.3 476.5,628.2 482.5,630.2 489.5,690.3 495.5,671.3 501.5,725.2 507.5,736.7 514.5,732.9 520.5,723.4 526.5,728.4 532.5,722.9 538.5,724.4 545.5,714.9 551.5,711.4 557.5,705.9 563.5,702.6 570.5,705.9 576.5,711.4 582.5,680.3 588.5,665.8 594.5,673.8 601.5,663.5 607.5,662.3 613.5,644.5 619.5,681.3 626.5,698.4 632.5,687.1 638.5,680.8 644.5,697.1 650.5,683.8 657.5,652.5 663.5,663.8 669.5,664.0 675.5,654.0 682.5,667.0 688.5,672.0 694.5,666.8 700.5,657.8 706.5,654.8 713.5,662.3 719.5,667.0 725.5,662.3 731.5,653.8 738.5,685.3 744.5,665.8 750.5,638.2 756.5,648.5 762.5,642.2 769.5,673.8 775.5,688.6 781.5,672.8 787.5,723.4 794.5,703.6 800.5,711.9 806.5,695.4 812.5,648.2 818.5,607.6 825.5,616.7 831.5,624.7 837.5,626.7 843.5,656.3 850.5,674.3 856.5,669.8 862.5,670.0 868.5,685.1 874.5,670.3 881.5,657.3 887.5,654.3 893.5,665.8 899.5,669.8 906.5,662.0 912.5,668.3 918.5,652.5 924.5,684.1 930.5,671.8 937.5,674.3 943.5,679.8 949.5,680.3 955.5,681.3 962.5,676.3 968.5,675.1 974.5,676.8 980.5,670.0 986.5,673.3 993.5,686.1 999.5,667.5 1005.5,667.5 1011.5,649.5 1018.5,665.3 1024.5,666.3 1030.5,709.6 1036.5,649.0 1042.5,640.7 1049.5,643.5 1055.5,645.2 1061.5,608.6 1067.5,598.1 1074.5,567.3 1080.5,588.8 1086.5,598.4 1092.5,589.3 1098.5,583.1 1105.5,605.6 1111.5,655.8 1117.5,637.5 1123.5,637.5 1130.5,646.7 1136.5,648.0 1142.5,653.3 1148.5,656.5 1154.5,654.5 1161.5,662.0 1167.5,661.0 1173.5,655.5 1179.5,665.0 1186.5,664.8 1192.5,658.5 1198.5,663.3 1204.5,659.3 1210.5,656.8 1217.5,654.5 1223.5,661.0 1229.5,656.5 1235.5,660.3 1242.5,666.5 1248.5,670.8 1254.5,674.1 1260.5,663.3" fill="none" stroke="#7e57c2" stroke-width="1.8" stroke-linejoin="round"/>
<text x="10.2" y="19" fill="#131722" textLength="60.8" lengthAdjust="spacingAndGlyphs" stroke="#131722" stroke-width="0.2">ranadagger</text>
<text x="75" y="19" fill="#131722" textLength="52.5" lengthAdjust="spacingAndGlyphs" stroke="#131722" stroke-width="0.2">published</text>
<text x="130.8" y="19" fill="#131722" textLength="12.4" lengthAdjust="spacingAndGlyphs" stroke="#131722" stroke-width="0.2">on</text>
<text x="146" y="19" fill="#131722" textLength="92.5" lengthAdjust="spacingAndGlyphs" stroke="#131722" stroke-width="0.2">TradingView.com,</text>
<text x="244" y="19" fill="#131722" textLength="19.5" lengthAdjust="spacingAndGlyphs" stroke="#131722" stroke-width="0.2">Aug</text>
<text x="268.5" y="19" fill="#131722" textLength="15.5" lengthAdjust="spacingAndGlyphs" stroke="#131722" stroke-width="0.2">13,</text>
<text x="290" y="19" fill="#131722" textLength="26" lengthAdjust="spacingAndGlyphs" stroke="#131722" stroke-width="0.2">2023</text>
<text x="320.5" y="19" fill="#131722" textLength="28.0" lengthAdjust="spacingAndGlyphs" stroke="#131722" stroke-width="0.2">17:36</text>
<text x="352" y="19" fill="#131722" textLength="19" lengthAdjust="spacingAndGlyphs" stroke="#131722" stroke-width="0.2">UTC</text>
<text x="18.2" y="46" fill="#131722" textLength="36.8" lengthAdjust="spacingAndGlyphs" stroke="#131722" stroke-width="0.2">Bitcoin</text>
<text x="63.0" y="46" fill="#131722" text-anchor="middle" stroke="#131722" stroke-width="0.2">/</text>
<text x="69.5" y="46" fill="#131722" textLength="48.0" lengthAdjust="spacingAndGlyphs" stroke="#131722" stroke-width="0.2">TetherUS,</text>
<text x="125" y="46" fill="#131722" textLength="15.7" lengthAdjust="spacingAndGlyphs" stroke="#131722" stroke-width="0.2">4h,</text>
<text x="146.2" y="46" fill="#131722" textLength="45.0" lengthAdjust="spacingAndGlyphs" stroke="#131722" stroke-width="0.2">BINANCE</text>
<text x="199.5" y="46" fill="#131722" textLength="7.5" lengthAdjust="spacingAndGlyphs" stroke="#131722" stroke-width="0.2">O</text>
<text x="207.5" y="46" fill="#26a69a" textLength="48" lengthAdjust="spacingAndGlyphs">29374.19</text>
<text x="263.5" y="46" fill="#131722" textLength="6.8" lengthAdjust="spacingAndGlyphs" stroke="#131722" stroke-width="0.2">H</text>
<text x="270.5" y="46" fill="#26a69a" textLength="48" lengthAdjust="spacingAndGlyphs">29420.00</text>
<text x="326.5" y="46" fill="#131722" textLength="5.5" lengthAdjust="spacingAndGlyphs" stroke="#131722" stroke-width="0.2">L</text>
<text x="332.5" y="46" fill="#26a69a" textLength="48" lengthAdjust="spacingAndGlyphs">29328.21</text>
<text x="388.5" y="46" fill="#131722" textLength="6.5" lengthAdjust="spacingAndGlyphs" stroke="#131722" stroke-width="0.2">C</text>
<text x="395" y="46" fill="#26a69a" textLength="48" lengthAdjust="spacingAndGlyphs">29400.05</text>
<text x="451.5" y="46" fill="#26a69a" textLength="84" lengthAdjust="spacingAndGlyphs">+25.85 (+0.09%)</text>
<text x="18.2" y="63" fill="#131722" textLength="21.8" lengthAdjust="spacingAndGlyphs" stroke="#131722" stroke-width="0.2">EMA</text>
<text x="45" y="63" fill="#131722" textLength="18" lengthAdjust="spacingAndGlyphs" stroke="#131722" stroke-width="0.2">(20,</text>
<text x="68.7" y="63" fill="#131722" textLength="30.0" lengthAdjust="spacingAndGlyphs" stroke="#131722" stroke-width="0.2">close,</text>
<text x="104.5" y="63" fill="#131722" textLength="9.7" lengthAdjust="spacingAndGlyphs" stroke="#131722" stroke-width="0.2">0)</text>
<text x="122" y="63" fill="#0c3299" textLength="48" lengthAdjust="spacingAndGlyphs">29420.78</text>
<text x="18.2" y="80" fill="#131722" textLength="15.5" lengthAdjust="spacingAndGlyphs" stroke="#131722" stroke-width="0.2">MA</text>
<text x="38.2" y="80" fill="#131722" textLength="18.3" lengthAdjust="spacingAndGlyphs" stroke="#131722" stroke-width="0.2">(50,</text>
<text x="62.5" y="80" fill="#131722" textLength="29.5" lengthAdjust="spacingAndGlyphs" stroke="#131722" stroke-width="0.2">close,</text>
<text x="98" y="80" fill="#131722" textLength="9.5" lengthAdjust="spacingAndGlyphs" stroke="#131722" stroke-width="0.2">0)</text>
<text x="115.5" y="80" fill="#f23645" textLength="48" lengthAdjust="spacingAndGlyphs">29366.82</text>
<text x="18.3" y="577" fill="#131722" textLength="15.0" lengthAdjust="spacingAndGlyphs" stroke="#131722" stroke-width="0.2">RSI</text>
<text x="38.8" y="577" fill="#131722" textLength="18.3" lengthAdjust="spacingAndGlyphs" stroke="#131722" stroke-width="0.2">(14,</text>
<text x="62.7" y="577" fill="#131722" textLength="31.3" lengthAdjust="spacingAndGlyphs" stroke="#131722" stroke-width="0.2">close)</text>
<text x="103" y="577" fill="#7e57c2" textLength="27.5" lengthAdjust="spacingAndGlyphs">48.13</text>
<text x="1348.4" y="65.7" fill="#131722" textLength="47.9" lengthAdjust="spacingAndGlyphs" stroke="#131722" stroke-width="0.2">31750.00</text>
<text x="1348.4" y="102.7" fill="#131722" textLength="47.9" lengthAdjust="spacingAndGlyphs" stroke="#131722" stroke-width="0.2">31500.00</text>
<text x="1348.4" y="139.7" fill="#131722" textLength="47.9" lengthAdjust="spacingAndGlyphs" stroke="#131722" stroke-width="0.2">31250.00</text>
<text x="1348.4" y="176.7" fill="#131722" textLength="47.9" lengthAdjust="spacingAndGlyphs" stroke="#131722" stroke-width="0.2">31000.00</text>
<text x="1348.4" y="213.7" fill="#131722" textLength="47.9" lengthAdjust="spacingAndGlyphs" stroke="#131722" stroke-width="0.2">30750.00</text>
<text x="1348.4" y="250.7" fill="#131722" textLength="47.9" lengthAdjust="spacingAndGlyphs" stroke="#131722" stroke-width="0.2">30500.00</text>
<text x="1348.4" y="287.7" fill="#131722" textLength="47.9" lengthAdjust="spacingAndGlyphs" stroke="#131722" stroke-width="0.2">30250.00</text>
<text x="1348.4" y="324.7" fill="#131722" textLength="47.9" lengthAdjust="spacingAndGlyphs" stroke="#131722" stroke-width="0.2">30000.00</text>
<text x="1348.4" y="361.7" fill="#131722" textLength="47.9" lengthAdjust="spacingAndGlyphs" stroke="#131722" stroke-width="0.2">29750.00</text>
<text x="1348.4" y="398.7" fill="#131722" textLength="47.9" lengthAdjust="spacingAndGlyphs" stroke="#131722" stroke-width="0.2">29500.00</text>
<text x="1348.4" y="435.7" fill="#131722" textLength="47.9" lengthAdjust="spacingAndGlyphs" stroke="#131722" stroke-width="0.2">29250.00</text>
<text x="1348.4" y="472.7" fill="#131722" textLength="47.9" lengthAdjust="spacingAndGlyphs" stroke="#131722" stroke-width="0.2">29000.00</text>
<text x="1348.4" y="509.7" fill="#131722" textLength="47.9" lengthAdjust="spacingAndGlyphs" stroke="#131722" stroke-width="0.2">28750.00</text>
<text x="1348.4" y="546.7" fill="#131722" textLength="47.9" lengthAdjust="spacingAndGlyphs" stroke="#131722" stroke-width="0.2">28500.00</text>
<text x="1348.4" y="586.7" fill="#131722" textLength="29" lengthAdjust="spacingAndGlyphs" stroke="#131722" stroke-width="0.2">70.00</text>
<text x="1348.4" y="624.2" fill="#131722" textLength="29" lengthAdjust="spacingAndGlyphs" stroke="#131722" stroke-width="0.2">60.00</text>
<text x="1348.4" y="660.7" fill="#131722" textLength="29" lengthAdjust="spacingAndGlyphs" stroke="#131722" stroke-width="0.2">50.00</text>
<text x="1348.4" y="698.7" fill="#131722" textLength="29" lengthAdjust="spacingAndGlyphs" stroke="#131722" stroke-width="0.2">40.00</text>
<text x="1348.4" y="735.7" fill="#131722" textLength="29" lengthAdjust="spacingAndGlyphs" stroke="#131722" stroke-width="0.2">30.00</text>
<rect x="1340" y="28" width="65" height="31.5" fill="#fff"/>
<rect x="1344" y="31" width="57.5" height="23.5" rx="4" fill="#fff" stroke="#e0e3eb" stroke-width="1"/>
<text x="1353" y="47.9" fill="#131722" textLength="27.5" lengthAdjust="spacingAndGlyphs" stroke="#131722" stroke-width="0.2">USDT</text>
<path d="M1340 164 H1400 Q1402 164 1402 166 V179 Q1402 181 1400 181 H1340 Z" fill="#0000ff"/>
<text x="1348.5" y="176.6" fill="#fff" textLength="47.5" lengthAdjust="spacingAndGlyphs" stroke="#fff" stroke-width="0.35">31000.00</text>
<path d="M1340 261 H1400 Q1402 261 1402 263 V276 Q1402 278 1400 278 H1340 Z" fill="#0000ff"/>
<text x="1348.5" y="273.6" fill="#fff" textLength="47.5" lengthAdjust="spacingAndGlyphs" stroke="#fff" stroke-width="0.35">30350.00</text>
<path d="M1340 522 H1400 Q1402 522 1402 524 V537 Q1402 539 1400 539 H1340 Z" fill="#0000ff"/>
<text x="1348.5" y="534.6" fill="#fff" textLength="47.5" lengthAdjust="spacingAndGlyphs" stroke="#fff" stroke-width="0.35">28585.00</text>
<path d="M1309.2 384 H1339 V401 H1309.2 Q1307.2 401 1307.2 399 V386 Q1307.2 384 1309.2 384 Z" fill="#0c3299"/>
<text x="1312" y="396.3" fill="#fff" textLength="22" lengthAdjust="spacingAndGlyphs" stroke="#fff" stroke-width="0.35">EMA</text>
<path d="M1340 384 H1400 Q1402 384 1402 386 V399 Q1402 401 1400 401 H1340 Z" fill="#0c3299"/>
<text x="1348.6" y="396.3" fill="#fff" textLength="47.8" lengthAdjust="spacingAndGlyphs" stroke="#fff" stroke-width="0.35">29420.78</text>
<path d="M1283 401 H1339 V418 H1283 Q1281 418 1281 416 V403 Q1281 401 1283 401 Z" fill="#26a69a"/>
<text x="1285.8" y="413.7" fill="#fff" textLength="47" lengthAdjust="spacingAndGlyphs" stroke="#fff" stroke-width="0.35">BTCUSDT</text>
<path d="M1340 401 H1400 Q1402 401 1402 403 V444 Q1402 446 1400 446 H1340 Z" fill="#26a69a"/>
<text x="1348.6" y="413.7" fill="#fff" textLength="47.8" lengthAdjust="spacingAndGlyphs" stroke="#fff" stroke-width="0.35">29400.05</text>
<text x="1348.6" y="427.5" fill="#fff" textLength="35.8" lengthAdjust="spacingAndGlyphs" stroke="#fff" stroke-width="0.35">−3.53%</text>
<text x="1348.6" y="441.6" fill="#c5e7e3" textLength="45.8" lengthAdjust="spacingAndGlyphs" stroke="#c5e7e3" stroke-width="0.35">02:23:17</text>
<path d="M1316.2 446 H1339 V463 H1316.2 Q1314.2 463 1314.2 461 V448 Q1314.2 446 1316.2 446 Z" fill="#f23645"/>
<text x="1318.7" y="458.6" fill="#fff" textLength="14.6" lengthAdjust="spacingAndGlyphs" stroke="#fff" stroke-width="0.35">MA</text>
<path d="M1340 446 H1400 Q1402 446 1402 448 V461 Q1402 463 1400 463 H1340 Z" fill="#f23645"/>
<text x="1348.6" y="458.6" fill="#fff" textLength="47.8" lengthAdjust="spacingAndGlyphs" stroke="#fff" stroke-width="0.35">29366.82</text>
<path d="M1315 656 H1339 V673 H1315 Q1313 673 1313 671 V658 Q1313 656 1315 656 Z" fill="#7e57c2"/>
<text x="1318.3" y="668.8" fill="#fff" textLength="15.6" lengthAdjust="spacingAndGlyphs" stroke="#fff" stroke-width="0.35">RSI</text>
<path d="M1340 656 H1381 Q1383 656 1383 658 V671 Q1383 673 1381 673 H1340 Z" fill="#7e57c2"/>
<text x="1348.2" y="668.8" fill="#fff" textLength="29.2" lengthAdjust="spacingAndGlyphs" stroke="#fff" stroke-width="0.35">48.13</text>
<text x="78.5" y="765" fill="#131722" text-anchor="middle" stroke="#131722" stroke-width="0.2">13</text>
<text x="227.5" y="765" fill="#131722" text-anchor="middle" stroke="#131722" stroke-width="0.2">17</text>
<text x="339.5" y="765" fill="#131722" text-anchor="middle" stroke="#131722" stroke-width="0.2">20</text>
<text x="489.5" y="765" fill="#131722" text-anchor="middle" stroke="#131722" stroke-width="0.2">24</text>
<text x="601.5" y="765" fill="#131722" text-anchor="middle" stroke="#131722" stroke-width="0.2">27</text>
<text x="694.5" y="765" fill="#131722" text-anchor="middle" stroke="#131722" stroke-width="0.2">12:00</text>
<text x="787.5" y="765" fill="#131722" text-anchor="middle" textLength="20.5" lengthAdjust="spacingAndGlyphs" font-weight="bold" stroke="#131722" stroke-width="0.2">Aug</text>
<text x="899.5" y="765" fill="#131722" text-anchor="middle" stroke="#131722" stroke-width="0.2">4</text>
<text x="1011.5" y="765" fill="#131722" text-anchor="middle" stroke="#131722" stroke-width="0.2">7</text>
<text x="1123.5" y="765" fill="#131722" text-anchor="middle" stroke="#131722" stroke-width="0.2">10</text>
<text x="1273.5" y="765" fill="#131722" text-anchor="middle" stroke="#131722" stroke-width="0.2">14</text>
<rect x="1249" y="532.5" width="23" height="23" fill="#fff"/>
<circle cx="1260.5" cy="544.4" r="9.9" fill="#fff" stroke="#9c27b0" stroke-width="1.3"/>
<path d="M1264 539 L1256.2 544.7 L1260.2 545.1 L1257 550 L1264.6 544.2 L1260.7 543.8 Z" fill="#9c27b0" stroke="#9c27b0" stroke-width="0.2" stroke-linejoin="round"/>
<g fill="#131722"><path d="M10.2 787.3 h7.9 v9.45 h-4.2 v-5.75 h-3.7 z"/><circle cx="21" cy="789.1" r="1.8"/><path d="M24.4 787.3 h5.3 l-4.2 9.45 h-4.5 z"/></g>
<text x="33" y="796.8" fill="#131722" textLength="70" lengthAdjust="spacingAndGlyphs" font-size="12.6" stroke="#131722" stroke-width="0.2">TradingView</text>
</svg></body></html>
